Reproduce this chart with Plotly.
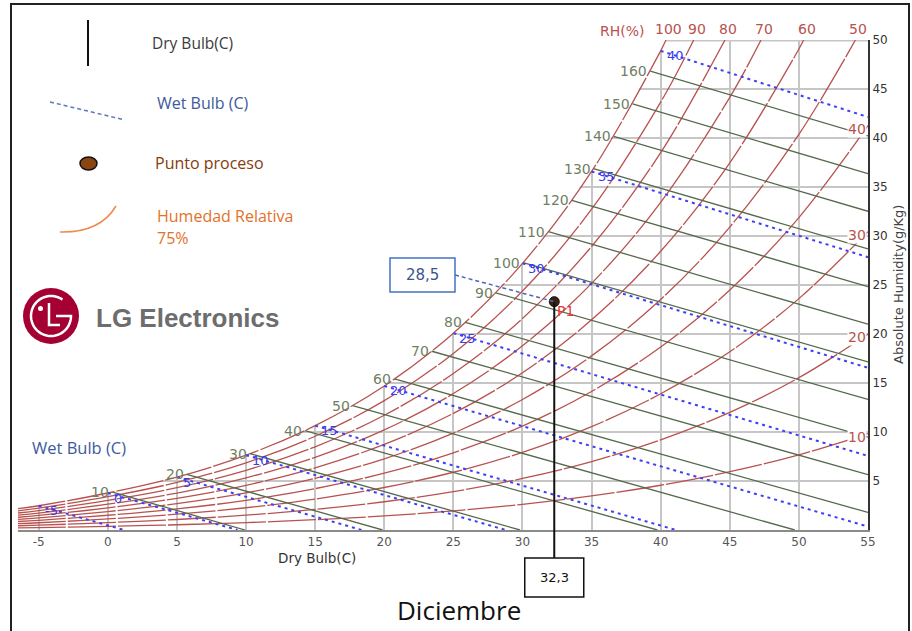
import math
import plotly.graph_objects as go

# ---------------- data ----------------
# dry-bulb temperatures (°C) at which the relative-humidity curves were read
T_GRID = [-6.5, -5, 0, 5, 10, 15, 20, 25, 30, 35, 40, 45, 50, 55]

# absolute humidity (g/kg) of each RH curve at T_GRID
RH100 = [2.172, 2.476, 3.775, 5.403, 7.632, 10.650, 14.699, 20.086, 27.210, 36.584, 48.894]
RH90 = [1.954, 2.227, 3.395, 4.858, 6.861, 9.568, 13.198, 18.019, 24.382, 32.733, 43.661]
RH80 = [1.737, 1.979, 3.016, 4.315, 6.091, 8.491, 11.704, 15.966, 21.579, 28.927, 38.509]
RH70 = [1.519, 1.731, 2.637, 3.772, 5.323, 7.417, 10.217, 13.925, 18.800, 25.165, 33.438, 44.154]
RH60 = [1.302, 1.483, 2.259, 3.231, 4.557, 6.346, 8.737, 11.898, 16.045, 21.446, 28.442, 37.467, 49.081]
RH50 = [1.084, 1.236, 1.882, 2.690, 3.793, 5.280, 7.264, 9.884, 13.314, 17.769, 23.522, 30.912, 40.370]
RH40 = [0.867, 0.988, 1.505, 2.150, 3.031, 4.217, 5.798, 7.882, 10.605, 14.134, 18.677, 24.486, 31.882, 41.265]
RH30 = [0.650, 0.741, 1.128, 1.611, 2.270, 3.157, 4.338, 5.893, 7.920, 10.542, 13.903, 18.185, 23.609, 30.444]
RH20 = [0.433, 0.493, 0.751, 1.073, 1.511, 2.101, 2.885, 3.916, 5.258, 6.988, 9.200, 12.007, 15.543, 19.971]
RH10 = [0.217, 0.247, 0.375, 0.536, 0.755, 1.049, 1.439, 1.952, 2.618, 3.475, 4.566, 5.946, 7.675, 9.828]
RH_LEVELS = [100, 90, 80, 70, 60, 50, 40, 30, 20, 10]
# dry bulb where the 100..50 % curves leave the top of the chart (50 g/kg)
RH_TOP_T = [40.38, 42.39, 44.65, 47.26, 50.34, 54.09]

# enthalpy lines (kJ/kg): start on saturation, end on the bottom / right edge
ENTH_H = [10, 20, 30, 40, 50, 60, 70, 80, 90, 100, 110, 120, 130, 140, 150, 160]
ENTH_T0 = [0.33, 5.71, 10.30, 14.26, 17.71, 20.74, 23.44, 25.86, 28.06, 30.05, 31.88, 33.57, 35.14, 36.60, 37.97, 39.25]
ENTH_W0 = [3.87, 5.68, 7.79, 10.15, 12.70, 15.41, 18.24, 21.18, 24.20, 27.29, 30.44, 33.64, 36.88, 40.16, 43.47, 46.82]
ENTH_T1 = [9.94, 19.88, 29.82, 39.76, 49.70, 55, 55, 55, 55, 55, 55, 55, 55, 55, 55, 55]
ENTH_W1 = [0, 0, 0, 0, 0, 1.79, 5.64, 9.48, 13.32, 17.16, 21.00, 24.84, 28.68, 32.52, 36.36, 40.22]

# wet-bulb lines (°C)
WB_T = [-5, 0, 5, 10, 15, 20, 25, 30, 35, 40]
WB_W0 = [2.476, 3.775, 5.403, 7.632, 10.650, 14.699, 20.086, 27.210, 36.584, 48.894]
WB_T1 = [1.18, 9.38, 18.37, 28.80, 41.11, 55, 55, 55, 55, 55]
WB_W1 = [0, 0, 0, 0, 0, 0.35, 7.56, 16.55, 27.84, 42.14]

# process point
P1_T = 32.3
P1_W = 23.3
P1_WB = 28.5

X_TICKS = [-5, 0, 5, 10, 15, 20, 25, 30, 35, 40, 45, 50, 55]
Y_TICKS = [5, 10, 15, 20, 25, 30, 35, 40, 45, 50]

# ---------------- layout helpers ----------------
FIG_W, FIG_H = 912, 631
L, R, T, B = 18, 868, 40, 530
X_RANGE = [-6.5, 55]
Y_RANGE = [0, 50]


def PX(px):
    return (px - L) / (R - L)


def PY(py):
    return (B - py) / (B - T)


def DX(t):
    return (t - X_RANGE[0]) / (X_RANGE[1] - X_RANGE[0])


def DY(w):
    return (w - Y_RANGE[0]) / (Y_RANGE[1] - Y_RANGE[0])


RH_COLOR = "#b8524f"
ENTH_COLOR = "#55694c"
ENTH_LABEL = "#6f7f64"
WB_COLOR = "#3f3ff5"
WB_LABEL = "#3a3aee"
GRID = "#c6c6c6"
TICK_FONT = "DejaVu Sans"
TEXT_FONT = "Open Sans"

fig = go.Figure()

# white mask above the saturation curve (hides the grid there)
sat_x = T_GRID[:len(RH100)] + [RH_TOP_T[0]]
sat_y = RH100 + [Y_RANGE[1]]
fig.add_trace(go.Scatter(
    x=sat_x + [RH_TOP_T[0], X_RANGE[0] - 1, X_RANGE[0] - 1],
    y=sat_y + [Y_RANGE[1] + 1, Y_RANGE[1] + 1, RH100[0]],
    mode="lines", fill="toself", fillcolor="white",
    line=dict(width=0, color="white"), hoverinfo="skip", showlegend=False))

# top grid line (from saturation to the right edge)
fig.add_trace(go.Scatter(x=[RH_TOP_T[0], X_RANGE[1]], y=[Y_RANGE[1], Y_RANGE[1]],
                         mode="lines", line=dict(color=GRID, width=3),
                         hoverinfo="skip", showlegend=False))

# relative-humidity curves
RH_SERIES = [RH100, RH90, RH80, RH70, RH60, RH50, RH40, RH30, RH20, RH10]
for i, ws in enumerate(RH_SERIES):
    xs = T_GRID[:len(ws)]
    ys = list(ws)
    if i < len(RH_TOP_T):
        xs = xs + [RH_TOP_T[i]]
        ys = ys + [Y_RANGE[1]]
    fig.add_trace(go.Scatter(x=xs, y=ys, mode="lines",
                             line=dict(color=RH_COLOR, width=1.3, shape="spline",
                                       dash="48px,2px"),
                             hoverinfo="skip", showlegend=False))

# enthalpy lines
ex, ey = [], []
for t0, w0, t1, w1 in zip(ENTH_T0, ENTH_W0, ENTH_T1, ENTH_W1):
    ex += [t0, t1, None]
    ey += [w0, w1, None]
fig.add_trace(go.Scatter(x=ex, y=ey, mode="lines",
                         line=dict(color=ENTH_COLOR, width=1.3),
                         hoverinfo="skip", showlegend=False))

# wet-bulb lines
wx, wy = [], []
for t0, w0, t1, w1 in zip(WB_T, WB_W0, WB_T1, WB_W1):
    wx += [t0, t1, None]
    wy += [w0, w1, None]
fig.add_trace(go.Scatter(x=wx, y=wy, mode="lines",
                         line=dict(color=WB_COLOR, width=2, dash="3px,4px"),
                         hoverinfo="skip", showlegend=False))

# process point
fig.add_trace(go.Scatter(x=[P1_T], y=[P1_W], mode="markers",
                         marker=dict(size=10, color="#3b2212",
                                     line=dict(color="#111", width=1)),
                         hoverinfo="skip", showlegend=False, cliponaxis=False))

ann = []
shapes = []

# enthalpy labels
for h, t0, w0 in zip(ENTH_H, ENTH_T0, ENTH_W0):
    ann.append(dict(x=t0, y=w0, xref="x", yref="y", text=str(h), showarrow=False,
                    xanchor="right", yanchor="middle", xshift=-1, yshift=0,
                    font=dict(family=TICK_FONT, size=14, color=ENTH_LABEL)))
# wet bulb labels
for t0, w0 in zip(WB_T, WB_W0):
    ann.append(dict(x=t0, y=w0, xref="x", yref="y", text=str(t0), showarrow=False,
                    xanchor="left", yanchor="middle", xshift=4, yshift=-5,
                    font=dict(family=TICK_FONT, size=13, color=WB_LABEL)))
# RH labels at the top
for lvl, tt in zip(RH_LEVELS, RH_TOP_T):
    ann.append(dict(x=tt, y=Y_RANGE[1], xref="x", yref="y", text=str(lvl),
                    showarrow=False, xanchor="center", yanchor="bottom",
                    xshift=3, yshift=1,
                    font=dict(family=TICK_FONT, size=14, color=RH_COLOR)))
ann.append(dict(x=PX(622), y=PY(31), xref="paper", yref="paper", text="RH(%)",
                showarrow=False, xanchor="center", yanchor="middle",
                font=dict(family=TICK_FONT, size=14, color=RH_COLOR)))
# RH labels on the right edge
for lvl, ws in zip(RH_LEVELS[6:], RH_SERIES[6:]):
    ann.append(dict(x=T_GRID[len(ws) - 1], y=ws[-1], xref="x", yref="y", text=str(lvl),
                    showarrow=False, xanchor="right", yanchor="middle",
                    xshift=-1, yshift=-3, bgcolor="white", borderpad=0,
                    font=dict(family=TICK_FONT, size=14, color=RH_COLOR)))

# P1 label
ann.append(dict(x=P1_T, y=P1_W, xref="x", yref="y", text="P1", showarrow=False,
                xanchor="left", yanchor="middle", xshift=1, yshift=-9,
                font=dict(family=TICK_FONT, size=14, color="#e5383b")))

# dashed wet bulb guide to the 28,5 box
shapes.append(dict(type="line", xref="paper", yref="paper",
                   x0=PX(455), y0=PY(275), x1=DX(P1_T), y1=DY(P1_W),
                   line=dict(color="#4a68b8", width=1.5, dash="4px,3px")))
shapes.append(dict(type="rect", xref="paper", yref="paper",
                   x0=PX(390), x1=PX(455), y0=PY(292), y1=PY(258),
                   line=dict(color="#4472c4", width=1.5), fillcolor="white"))
ann.append(dict(x=PX(422.5), y=PY(275), xref="paper", yref="paper",
                text=f"{P1_WB:.1f}".replace(".", ","), showarrow=False,
                xanchor="center", yanchor="middle",
                font=dict(family=TICK_FONT, size=15, color="#3b5590")))

# vertical dry bulb guide to the 32,3 box
xp = DX(P1_T)
shapes.append(dict(type="line", xref="paper", yref="paper",
                   x0=xp, x1=xp, y0=PY(558), y1=DY(P1_W),
                   line=dict(color="#111", width=2)))
shapes.append(dict(type="rect", xref="paper", yref="paper",
                   x0=xp - 29.5 / (R - L), x1=xp + 29.5 / (R - L),
                   y0=PY(597), y1=PY(558),
                   line=dict(color="#111", width=1.5), fillcolor="white"))
ann.append(dict(x=xp, y=PY(577.5), xref="paper", yref="paper",
                text=f"{P1_T:.1f}".replace(".", ","), showarrow=False,
                xanchor="center", yanchor="middle",
                font=dict(family=TICK_FONT, size=13, color="#111")))

# axis titles
ann.append(dict(x=PX(317), y=PY(558), xref="paper", yref="paper", text="Dry Bulb(C)",
                showarrow=False, xanchor="center", yanchor="middle",
                font=dict(family=TICK_FONT, size=13.5, color="#333")))
ann.append(dict(x=PX(898), y=PY(285), xref="paper", yref="paper",
                text="Absolute Humidity(g/Kg)", textangle=-90, showarrow=False,
                xanchor="center", yanchor="middle",
                font=dict(family=TICK_FONT, size=13, color="#444")))

# title
ann.append(dict(x=PX(459), y=PY(610), xref="paper", yref="paper", text="Diciembre",
                showarrow=False, xanchor="center", yanchor="middle",
                font=dict(family=TEXT_FONT, size=26, color="#111")))

# floating label
ann.append(dict(x=PX(30), y=PY(447), xref="paper", yref="paper", text="Wet Bulb (C)",
                showarrow=False, xanchor="left", yanchor="middle",
                font=dict(family=TEXT_FONT, size=16.5, color="#3d5a99")))

# ---------- hand drawn legend ----------
shapes.append(dict(type="line", xref="paper", yref="paper",
                   x0=PX(88), x1=PX(88), y0=PY(20), y1=PY(66),
                   line=dict(color="#111", width=2)))
ann.append(dict(x=PX(150), y=PY(43), xref="paper", yref="paper", text="Dry Bulb(C)",
                showarrow=False, xanchor="left", yanchor="middle",
                font=dict(family=TEXT_FONT, size=15.5, color="#3b3b3b")))
shapes.append(dict(type="line", xref="paper", yref="paper",
                   x0=PX(50), x1=PX(125), y0=PY(102), y1=PY(120),
                   line=dict(color="#5a78c0", width=1.5, dash="4px,3px")))
ann.append(dict(x=PX(155), y=PY(103), xref="paper", yref="paper", text="Wet Bulb (C)",
                showarrow=False, xanchor="left", yanchor="middle",
                font=dict(family=TEXT_FONT, size=16, color="#3d5a99")))
shapes.append(dict(type="circle", xref="paper", yref="paper",
                   x0=PX(80), x1=PX(97), y0=PY(170), y1=PY(157),
                   line=dict(color="#111", width=1.5), fillcolor="#8a4513"))
ann.append(dict(x=PX(153), y=PY(163), xref="paper", yref="paper", text="Punto proceso",
                showarrow=False, xanchor="left", yanchor="middle",
                font=dict(family=TEXT_FONT, size=16, color="#843c0c")))
shapes.append(dict(type="path", xref="paper", yref="paper",
                   path=f"M {PX(60)},{PY(232)} Q {PX(100)},{PY(233)} {PX(116)},{PY(206)}",
                   line=dict(color="#ed8b4f", width=1.5)))
ann.append(dict(x=PX(155), y=PY(216), xref="paper", yref="paper", text="Humedad Relativa",
                showarrow=False, xanchor="left", yanchor="middle",
                font=dict(family=TEXT_FONT, size=16, color="#e2722a")))
ann.append(dict(x=PX(155), y=PY(238), xref="paper", yref="paper", text="75%",
                showarrow=False, xanchor="left", yanchor="middle",
                font=dict(family=TEXT_FONT, size=16, color="#e2722a")))

# ---------- LG logo ----------
cx, cy, rr = 51, 316, 28
shapes.append(dict(type="circle", xref="paper", yref="paper",
                   x0=PX(cx - rr), x1=PX(cx + rr), y0=PY(cy + rr), y1=PY(cy - rr),
                   line=dict(width=0), fillcolor="#a50034"))
ring = []
for a in range(55, 361, 5):
    ra = math.radians(a)
    ring.append((cx + 20 * math.cos(ra), cy - 20 * math.sin(ra)))
ring.append((cx + 5, cy))
path = "M " + " L ".join(f"{PX(x)},{PY(y)}" for x, y in ring)
shapes.append(dict(type="path", xref="paper", yref="paper", path=path,
                   line=dict(color="white", width=2.5)))
shapes.append(dict(type="path", xref="paper", yref="paper",
                   path=f"M {PX(cx - 2)},{PY(cy - 13)} L {PX(cx - 2)},{PY(cy + 9)} L {PX(cx + 9)},{PY(cy + 9)}",
                   line=dict(color="white", width=2.5)))
shapes.append(dict(type="circle", xref="paper", yref="paper",
                   x0=PX(cx - 13), x1=PX(cx - 8), y0=PY(cy - 5), y1=PY(cy - 10),
                   line=dict(width=0), fillcolor="white"))
ann.append(dict(x=PX(94), y=PY(318), xref="paper", yref="paper", text="<b>LG Electronics</b>",
                showarrow=False, xanchor="left", yanchor="middle",
                font=dict(family="Liberation Sans", size=26, color="#6d6d6d")))

# outer frame
shapes.append(dict(type="rect", xref="paper", yref="paper",
                   x0=PX(11), x1=PX(909), y0=PY(640), y1=PY(4),
                   line=dict(color="#222", width=2), layer="above"))

fig.update_layout(
    width=FIG_W, height=FIG_H,
    margin=dict(l=L, r=FIG_W - R, t=T, b=FIG_H - B, pad=0),
    paper_bgcolor="white", plot_bgcolor="white",
    showlegend=False,
    annotations=ann, shapes=shapes,
    xaxis=dict(range=X_RANGE, tickvals=X_TICKS, ticktext=[str(v) for v in X_TICKS],
               showgrid=True, gridcolor=GRID,
               gridwidth=1.5, zeroline=False, showline=True, linecolor="#8a8a8a",
               linewidth=2, ticks="", tickfont=dict(family=TICK_FONT, size=12, color="#555"),
               fixedrange=True),
    yaxis=dict(range=Y_RANGE, tickvals=Y_TICKS, ticktext=[str(v) for v in Y_TICKS],
               side="right", showgrid=True,
               gridcolor=GRID, gridwidth=1.5, zeroline=False, showline=True,
               linecolor="#333", linewidth=2, ticks="",
               tickfont=dict(family=TICK_FONT, size=12, color="#333"), fixedrange=True),
)

fig.write_html("out.html")
